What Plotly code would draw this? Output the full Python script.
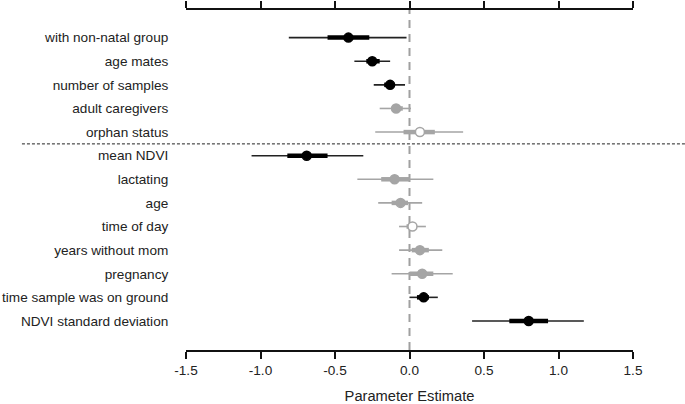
import plotly.graph_objects as go

labels = ["with non-natal group", "age mates", "number of samples", "adult caregivers",
          "orphan status", "mean NDVI", "lactating", "age", "time of day",
          "years without mom", "pregnancy", "time sample was on ground",
          "NDVI standard deviation"]
estimate = [-0.41, -0.25, -0.13, -0.09, 0.07, -0.69, -0.10, -0.06, 0.02, 0.07, 0.085, 0.095, 0.80]
outer_lo = [-0.81, -0.37, -0.24, -0.20, -0.23, -1.06, -0.35, -0.21, -0.07, -0.07, -0.12, 0.00, 0.42]
outer_hi = [-0.02, -0.13, -0.03, 0.01, 0.36, -0.31, 0.16, 0.085, 0.11, 0.22, 0.29, 0.19, 1.17]
inner_lo = [-0.55, -0.29, -0.17, -0.12, -0.04, -0.82, -0.19, -0.12, -0.02, 0.015, 0.0, 0.05, 0.67]
inner_hi = [-0.27, -0.20, -0.10, -0.045, 0.17, -0.55, 0.0, -0.01, 0.05, 0.13, 0.16, 0.13, 0.93]
status = ["sig", "sig", "sig", "ns", "open", "sig", "ns", "ns", "open", "ns", "ns", "sig", "sig"]
x_ticks = [-1.5, -1.0, -0.5, 0.0, 0.5, 1.0, 1.5]

BLACK = "#000000"
DARK = "#222222"
GRAY = "#a5a5a5"
style = {
    "sig": dict(line=DARK, inner=BLACK, fill=BLACK, edge=BLACK),
    "ns": dict(line=GRAY, inner=GRAY, fill=GRAY, edge=GRAY),
    "open": dict(line=GRAY, inner=GRAY, fill="#ffffff", edge=GRAY),
}

rows = list(range(len(labels)))
fig = go.Figure()

for key, st in style.items():
    idx = [i for i in rows if status[i] == key]
    ox, oy, ix, iy = [], [], [], []
    for i in idx:
        ox += [outer_lo[i], outer_hi[i], None]
        oy += [i, i, None]
        ix += [inner_lo[i], inner_hi[i], None]
        iy += [i, i, None]
    fig.add_trace(go.Scatter(x=ox, y=oy, mode="lines",
                             line=dict(color=st["line"], width=1.6),
                             hoverinfo="skip", showlegend=False))
    fig.add_trace(go.Scatter(x=ix, y=iy, mode="lines",
                             line=dict(color=st["inner"], width=4.5),
                             hoverinfo="skip", showlegend=False))
    fig.add_trace(go.Scatter(x=[estimate[i] for i in idx], y=idx, mode="markers",
                             marker=dict(size=9, color=st["fill"],
                                         line=dict(color=st["edge"], width=1.5)),
                             showlegend=False))

fig.add_shape(type="line", xref="x", yref="paper", x0=0, x1=0, y0=0, y1=1,
              line=dict(color="#a0a0a0", width=2, dash="8px,6px"), layer="below")
fig.add_shape(type="line", xref="paper", yref="y", x0=-0.367, x1=1.12, y0=4.5, y1=4.5,
              line=dict(color="#222222", width=1, dash="3px,2px"))

fig.update_layout(
    width=685, height=404,
    margin=dict(l=186, r=52, t=10, b=54),
    paper_bgcolor="white", plot_bgcolor="white",
    font=dict(family="Arial, Liberation Sans, sans-serif", size=13.6, color="#222222"),
    xaxis=dict(range=[-1.5, 1.5], tickvals=x_ticks,
               ticktext=[f"{v:.1f}" for v in x_ticks],
               showline=True, linecolor="#111111", linewidth=2, mirror="ticks",
               ticks="outside", ticklen=7, tickwidth=2, tickcolor="#111111",
               showgrid=False, zeroline=False, automargin=False,
               title=dict(text="Parameter Estimate", font=dict(size=14.7), standoff=15)),
    yaxis=dict(range=[13.23, -1.17], tickvals=rows, ticktext=labels,
               showline=False, showgrid=False, zeroline=False, automargin=False,
               ticks="outside", ticklen=14, tickcolor="rgba(0,0,0,0)"),
)

fig.write_html("out.html", config={"displayModeBar": False},
               post_script="document.body.style.margin='0';")
